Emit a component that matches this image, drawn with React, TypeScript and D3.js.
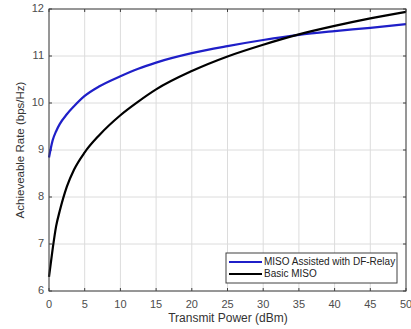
import React from "react";
import * as d3 from "d3";

const xVals = [0, 0.5, 1, 1.5, 2.5, 3.5, 5, 7, 10, 12.5, 15, 20, 25, 30, 35, 40, 45, 50];
const relayRate = [8.84, 9.2, 9.4, 9.55, 9.76, 9.93, 10.15, 10.35, 10.57, 10.73, 10.86, 11.06, 11.21, 11.34, 11.45, 11.53, 11.6, 11.68];
const basicRate = [6.3, 6.88, 7.38, 7.7, 8.22, 8.58, 8.95, 9.31, 9.74, 10.03, 10.29, 10.68, 10.99, 11.24, 11.46, 11.64, 11.8, 11.94];
const xTicks = [0, 5, 10, 15, 20, 25, 30, 35, 40, 45, 50];
const yTicks = [6, 7, 8, 9, 10, 11, 12];
const seriesNames = ["MISO Assisted with DF-Relay", "Basic MISO"];
const seriesColors = ["#1f1fc8", "#000000"];

export default function App() {
  const W = 411, H = 329;
  const L = 49, R = 406, T = 9, B = 291;
  const x = d3.scaleLinear().domain([0, 50]).range([L, R]);
  const y = d3.scaleLinear().domain([6, 12]).range([B, T]);
  const line = d3
    .line<number>()
    .x((_, i) => x(xVals[i]))
    .y((d) => y(d))
    .curve(d3.curveMonotoneX);
  const font = "'Liberation Sans', Arial, Helvetica, sans-serif";
  const tickColor = "#4d4d4d";
  return (
    <svg width={W} height={H} style={{ position: "absolute", left: 0, top: 0 }} fontFamily={font}>
      <rect x={0} y={0} width={W} height={H} fill="#fff" />
      <rect x={L} y={T} width={R - L} height={B - T} fill="#fff" />
      {xTicks.map((t) => (
        <line key={"gx" + t} x1={x(t)} x2={x(t)} y1={T} y2={B} stroke="#dcdcdc" strokeWidth={1} />
      ))}
      {yTicks.map((t) => (
        <line key={"gy" + t} x1={L} x2={R} y1={y(t)} y2={y(t)} stroke="#dcdcdc" strokeWidth={1} />
      ))}
      {xTicks.map((t) => (
        <g key={"tx" + t}>
          <line x1={x(t)} x2={x(t)} y1={B} y2={B - 3} stroke="#404040" />
          <line x1={x(t)} x2={x(t)} y1={T} y2={T + 3} stroke="#404040" />
          <text x={x(t)} y={305} textAnchor="middle" dominantBaseline="middle" fontSize={11} fill={tickColor}>
            {t}
          </text>
        </g>
      ))}
      {yTicks.map((t) => (
        <g key={"ty" + t}>
          <line x1={L} x2={L + 3} y1={y(t)} y2={y(t)} stroke="#404040" />
          <line x1={R} x2={R - 3} y1={y(t)} y2={y(t)} stroke="#404040" />
          <text x={44} y={y(t)} textAnchor="end" dominantBaseline="middle" fontSize={11} fill={tickColor}>
            {t}
          </text>
        </g>
      ))}
      <path d={line(relayRate) || ""} fill="none" stroke={seriesColors[0]} strokeWidth={2.2} />
      <path d={line(basicRate) || ""} fill="none" stroke={seriesColors[1]} strokeWidth={2.2} />
      <rect x={L} y={T} width={R - L} height={B - T} fill="none" stroke="#404040" strokeWidth={1} />
      <g>
        <rect x={226} y={253} width={171} height={30} fill="#fff" stroke="#404040" strokeWidth={1} />
        {seriesNames.map((n, i) => (
          <g key={n}>
            <line x1={229} x2={262} y1={262 + i * 12} y2={262 + i * 12} stroke={seriesColors[i]} strokeWidth={2.2} />
            <text x={264} y={262 + i * 12} dominantBaseline="middle" fontSize={10} fill="#222">
              {n}
            </text>
          </g>
        ))}
      </g>
      <text x={228} y={319} textAnchor="middle" dominantBaseline="middle" fontSize={12} fill="#333">
        Transmit Power (dBm)
      </text>
      <text
        transform={`translate(21, ${(T + B) / 2}) rotate(-90)`}
        textAnchor="middle"
        dominantBaseline="middle"
        fontSize={11.5}
        fill="#333"
      >
        Achieveable Rate (bps/Hz)
      </text>
    </svg>
  );
}
